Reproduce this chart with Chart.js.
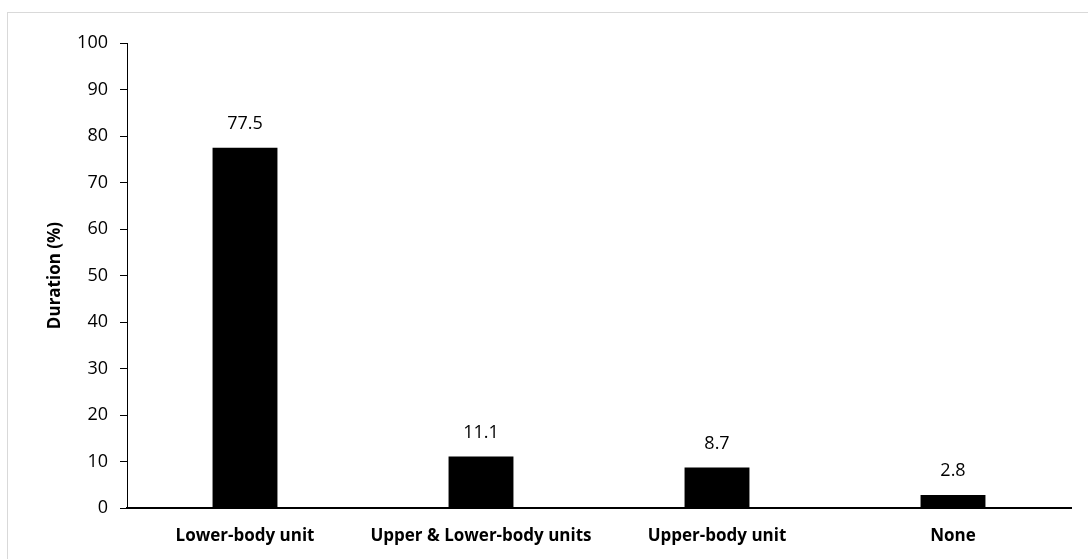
<!DOCTYPE html>
<html>
<head>
<meta charset="utf-8">
<script src="https://cdn.jsdelivr.net/npm/chart.js@4"></script>
<style>
    html, body { margin: 0; padding: 0; background: #fff; overflow: hidden; }
    #frame {
        position: absolute; left: 7px; top: 12px; width: 1100px; height: 560px;
        border-left: 1px solid #d9d9d9; border-top: 1px solid #d9d9d9;
    }
    #wrap { position: absolute; left: 0; top: 0; width: 1088px; height: 559px; }
</style>
</head>
<body>
<div id="frame"></div>
<div id="wrap"><canvas id="durationChart"></canvas></div>
<script>
const categories = ['Lower-body unit', 'Upper & Lower-body units', 'Upper-body unit', 'None'];
const durationValues = [77.5, 11.1, 8.7, 2.8];
const yTicks = [0, 10, 20, 30, 40, 50, 60, 70, 80, 90, 100];

const fontFamily = '"Open Sans", "Liberation Sans", sans-serif';

// value labels above each bar
const barLabels = {
    id: 'barLabels',
    afterDatasetsDraw(chart) {
        const ctx = chart.ctx;
        const meta = chart.getDatasetMeta(0);
        ctx.save();
        ctx.font = '18px ' + fontFamily;
        ctx.fillStyle = '#000';
        ctx.textAlign = 'center';
        ctx.textBaseline = 'middle';
        meta.data.forEach((bar, i) => {
            ctx.fillText(durationValues[i].toFixed(1), bar.x, bar.y - 24);
        });
        ctx.restore();
    }
};

const ctx = document.getElementById('durationChart').getContext('2d');
new Chart(ctx, {
    type: 'bar',
    data: {
        labels: categories,
        datasets: [{
            data: durationValues,
            backgroundColor: '#000',
            borderWidth: 0,
            categoryPercentage: 1,
            barPercentage: 0.275
        }]
    },
    options: {
        responsive: true,
        maintainAspectRatio: false,
        animation: false,
        layout: { padding: { top: 43, right: 17, bottom: 0, left: 0 } },
        plugins: {
            legend: { display: false },
            tooltip: { enabled: false }
        },
        scales: {
            x: {
                grid: { display: false },
                border: { display: true, color: '#000', width: 2 },
                ticks: {
                    color: '#000',
                    padding: 10,
                    maxRotation: 0,
                    font: { family: fontFamily, size: 17, weight: 'bold' }
                },
                afterFit(scale) { scale.height = 51; }
            },
            y: {
                min: 0,
                max: 100,
                afterBuildTicks(scale) { scale.ticks = yTicks.map(v => ({ value: v })); },
                grid: { drawOnChartArea: false, tickLength: 7, color: '#000' },
                border: { display: true, color: '#000', width: 1 },
                ticks: {
                    color: '#000',
                    padding: 12,
                    font: { family: fontFamily, size: 18 }
                },
                title: {
                    display: true,
                    text: 'Duration (%)',
                    color: '#000',
                    padding: { top: 45, bottom: 0 },
                    font: { family: fontFamily, size: 17, weight: 'bold' }
                },
                afterFit(scale) { scale.width = 127; }
            }
        }
    },
    plugins: [barLabels]
});
</script>
</body>
</html>
